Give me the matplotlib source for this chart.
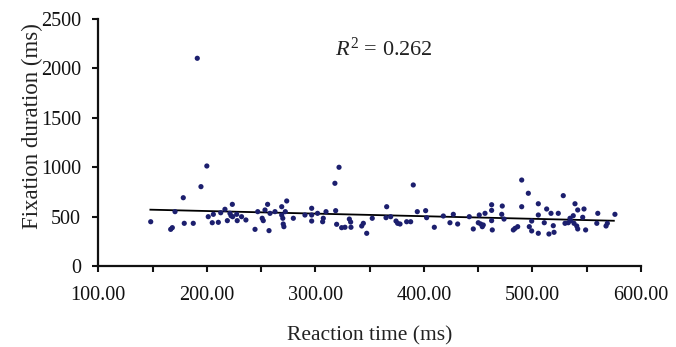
import matplotlib
matplotlib.use("Agg")
import matplotlib.pyplot as plt

# Reaction time (ms) and fixation duration (ms)
rt = [148.3, 166.7, 168.2, 170.7, 178.3, 179.2, 187.5, 191.2, 194.6, 200.0,
      201.3, 205.0, 206.0, 210.6, 212.8, 216.7, 218.9, 221.3, 222.3, 223.8,
      223.5, 227.5, 228.0, 232.0, 236.0, 244.4, 246.9, 252.0, 251.0, 253.6,
      256.0, 257.3, 258.2, 262.8, 269.0, 269.0, 270.0, 270.4, 271.0, 272.3,
      273.6, 279.7, 290.4, 296.6, 296.6, 296.6, 302.0, 306.7, 307.3, 309.8,
      318.0, 318.7, 319.6, 321.8, 324.2, 327.3, 331.3, 332.5, 332.8, 342.7,
      344.2, 347.3, 352.4, 365.7, 365.1, 369.4, 374.3, 375.8, 378.0, 384.1,
      387.8, 390.2, 393.9, 401.6, 402.5, 409.6, 417.9, 424.0, 427.1, 431.1,
      441.8, 445.5, 451.0, 450.1, 452.3, 453.8, 454.7, 456.3, 462.4, 462.4,
      462.4, 463.0, 472.2, 471.7, 473.8, 482.4, 484.0, 486.4, 490.1, 490.1,
      496.2, 499.3, 497.1, 499.3, 505.4, 505.4, 505.4, 510.9, 513.1, 517.1,
      519.2, 519.9, 515.2, 523.8, 528.4, 530.0, 533.0, 535.2, 534.6, 537.6,
      538.3, 540.8, 541.7, 539.2, 541.7, 546.3, 547.5, 549.0, 559.3, 560.2,
      567.8, 569.0, 576.0]
fix = [448, 371, 388, 550, 691, 432, 432, 2102, 803, 1012,
       499, 438, 523, 442, 539, 574, 459, 533, 509, 499,
       624, 523, 459, 499, 466, 371, 550, 459, 483, 567,
       624, 358, 533, 550, 600, 516, 483, 425, 398, 550,
       658, 483, 516, 584, 516, 455, 533, 448, 483, 550,
       837, 560, 422, 999, 388, 392, 475, 445, 392, 405,
       432, 331, 483, 600, 489, 499, 455, 432, 425, 448,
       448, 820, 550, 560, 489, 392, 506, 438, 523, 425,
       499, 375, 516, 438, 425, 398, 415, 533, 620, 563,
       459, 365, 607, 523, 475, 365, 381, 398, 870, 600,
       736, 455, 398, 355, 630, 516, 331, 438, 577, 533,
       408, 341, 324, 533, 712, 432, 438, 459, 483, 509,
       432, 405, 375, 630, 567, 493, 577, 365, 432, 533,
       405, 432, 523]

# Fitted trend line end points
fit_x = [148, 575]
fit_y = [570, 458]

x_ticks = [100, 150, 200, 250, 300, 350, 400, 450, 500, 550, 600]
x_labels = ["100.00", "", "200.00", "", "300.00", "", "400.00", "", "500.00", "", "600.00"]
y_ticks = [0, 500, 1000, 1500, 2000, 2500]
r2_text = "$R^2$ = 0.262"

plt.rcParams['font.family'] = ['Liberation Serif', 'DejaVu Serif']
plt.rcParams['mathtext.fontset'] = 'custom'
plt.rcParams['mathtext.rm'] = 'Liberation Serif'
plt.rcParams['mathtext.it'] = 'Liberation Serif:italic'

fig = plt.figure(figsize=(6.76, 3.47), dpi=100)
ax = fig.add_axes([0.1454, 0.2334, 0.8028, 0.712])

ax.scatter(rt, fix, s=14, color='#1c1f6e', edgecolors='none', zorder=3)
ax.plot(fit_x, fit_y, color='black', linewidth=1.3, zorder=2)

ax.set_xlim(100, 600)
ax.set_ylim(0, 2500)
ax.set_xticks(x_ticks)
ax.set_xticklabels(x_labels)
ax.set_yticks(y_ticks)

for s in ['top', 'right']:
    ax.spines[s].set_visible(False)
for s in ['left', 'bottom']:
    ax.spines[s].set_linewidth(1.6)
    ax.spines[s].set_color('#111111')

ax.tick_params(axis='both', direction='out', length=4.5, width=1.5,
               labelsize=14.5, colors='#111111')
ax.tick_params(axis='x', pad=10)
ax.tick_params(axis='y', pad=8)

ax.set_xlabel("Reaction time (ms)", fontsize=15.5, color='#222222', labelpad=15)
ax.set_ylabel("Fixation duration (ms)", fontsize=16.5, color='#222222')
ax.yaxis.set_label_coords(-0.102, 0.565)

ax.text(318, 2190, r2_text, fontsize=16, color='#222222', va='center', ha='left')

fig.savefig("out.png", dpi=100, facecolor='white')
